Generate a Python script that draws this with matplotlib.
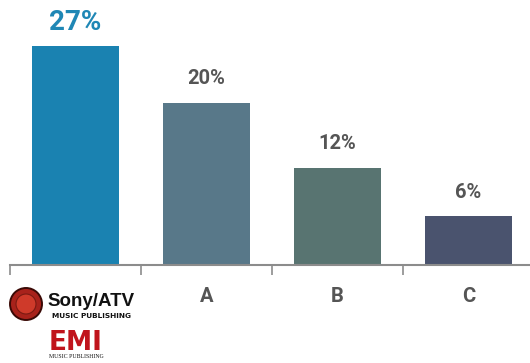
import matplotlib
matplotlib.use("Agg")
import matplotlib.pyplot as plt
from matplotlib.patches import Ellipse
from matplotlib import font_manager as fm

categories = ["Sony/ATV", "A", "B", "C"]
values = [27, 20, 12, 6]
labels = ["27%", "20%", "12%", "6%"]
colors = ["#1a82b1", "#587889", "#587471", "#4a536e"]
label_colors = ["#1f87b5", "#555555", "#555555", "#555555"]

fp_big = fm.FontProperties(family=['Roboto', 'DejaVu Sans'], weight='bold', size=20)
fp_small = fm.FontProperties(family=['Roboto', 'DejaVu Sans'], weight='bold', size=14.5)

fig = plt.figure(figsize=(5.30, 3.63), dpi=100)
ax = fig.add_axes([10/530, 0.27, 520/530, 243.3/363])
x = list(range(len(categories)))
ax.bar(x, values, width=0.67, color=colors)
ax.set_xlim(-0.5, 3.47)
ax.set_ylim(0, 30)
for xi, v, lab, c in zip(x, values, labels, label_colors):
    big = xi == 0
    ax.text(xi, v + 2.95, lab, ha="center", va="center",
            fontproperties=fp_big if big else fp_small, color=c)

for s in ["top", "right", "left"]:
    ax.spines[s].set_visible(False)
ax.spines["bottom"].set_color("#8c8c8c")
ax.spines["bottom"].set_linewidth(1.5)
ax.set_yticks([])
ax.set_xticks([-0.5, 0.5, 1.5, 2.5])
ax.set_xticklabels([])
ax.tick_params(axis="x", length=7, width=1.2, color="#8c8c8c", direction="out")
for xi, cat in zip(x[1:], categories[1:]):
    ax.text(xi, -3.9, cat, ha="center", va="center", fontproperties=fp_small,
            color="#555555")

# Sony/ATV and EMI logos as text
def fx(px):
    return px / 530
def fy(py):
    return 1 - py / 363
circ = Ellipse((fx(26), fy(304)), 32/530, 32/363, transform=fig.transFigure,
               fc="#a8221b", ec="#3a0a06", lw=1.4)
fig.add_artist(circ)
circ2 = Ellipse((fx(26), fy(304)), 20/530, 20/363, transform=fig.transFigure,
                fc="#cf3a2a", ec="#7a1a12", lw=0.8)
fig.add_artist(circ2)
fig.text(fx(47), fy(302), "Sony/ATV", fontsize=13.5, fontweight="bold", color="#111111",
         va="center", ha="left", family=["Liberation Sans", "DejaVu Sans"])
fig.text(fx(92), fy(316), "MUSIC PUBLISHING", fontsize=5.3, fontweight="bold",
         color="#111111", va="center", ha="center", family=["DejaVu Sans"])
fig.text(fx(76), fy(343), "EMI", fontsize=19, fontweight="bold", color="#c0141c",
         va="center", ha="center", family=["DejaVu Sans"])
fig.text(fx(76), fy(357), "MUSIC PUBLISHING", fontsize=4.2, color="#111111",
         va="center", ha="center", family=["Liberation Serif", "DejaVu Serif"])

fig.savefig("out.png", dpi=100)
